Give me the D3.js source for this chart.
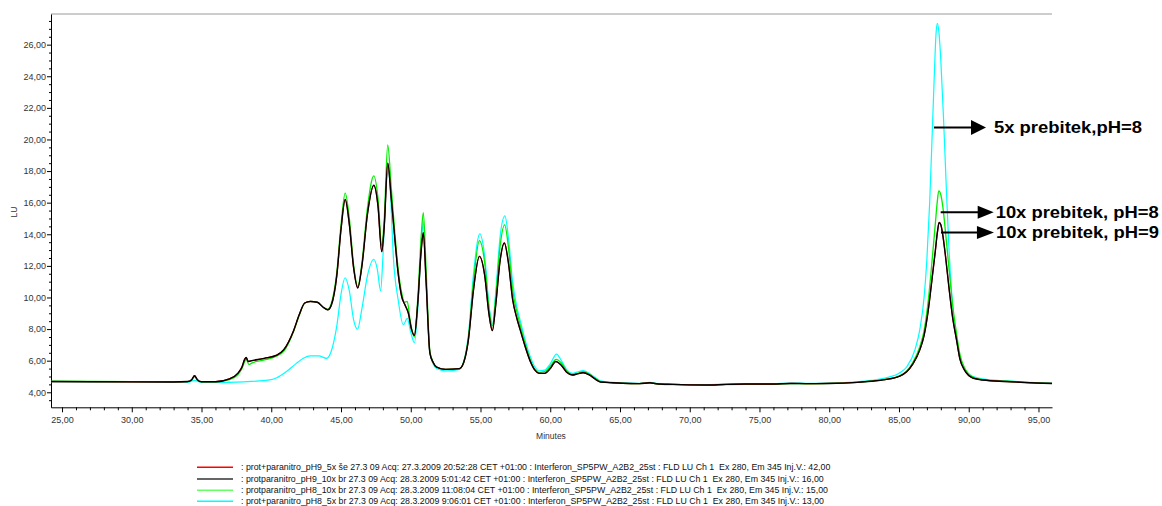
<!DOCTYPE html>
<html><head><meta charset="utf-8">
<script src="https://cdn.jsdelivr.net/npm/d3@7"></script>
<style>
html,body{margin:0;padding:0;background:#fff;}
svg{display:block;font-family:"Liberation Sans",Arial,sans-serif;}
</style></head>
<body><svg id="c" width="1162" height="506"></svg>
<script>
// ---------- DATA ----------
const xTicks = [25,30,35,40,45,50,55,60,65,70,75,80,85,90,95];
const yTicks = [4,6,8,10,12,14,16,18,20,22,24,26];
const xLabel = "Minutes";
const yLabel = "LU";

// pH9_10x (black)
const seriesPH9_10x = [[24.21,4.68],[27,4.67],[30,4.66],[33,4.65],[34.0,4.68],[34.3,4.8],[34.5,5.05],[34.7,4.8],[35.0,4.67],[36.0,4.67],[37.0,4.85],[37.6,5.2],[37.9,5.6],[38.1,6.1],[38.2,6.2],[38.35,5.95],[38.6,6.0],[39.5,6.15],[40.4,6.35],[40.9,6.7],[41.6,7.9],[42.0,8.9],[42.4,9.65],[42.8,9.75],[43.3,9.7],[43.7,9.4],[44.05,9.22],[44.3,9.5],[44.7,11.4],[45.0,14.3],[45.3,16.2],[45.6,14.6],[45.9,11.9],[46.2,10.6],[46.5,12.0],[46.9,15.3],[47.35,17.1],[47.65,15.8],[47.92,12.9],[48.1,14.5],[48.35,18.5],[48.6,16.3],[48.87,13.6],[49.1,11.5],[49.35,10.05],[49.6,9.5],[49.83,9.0],[50.05,8.0],[50.26,7.6],[50.5,9.6],[50.75,13.0],[50.9,14.1],[51.1,11.0],[51.37,6.5],[51.6,5.9],[51.85,5.6],[52.5,5.45],[53.5,5.5],[53.9,6.2],[54.13,7.3],[54.5,10.5],[54.92,12.6],[55.3,11.4],[55.6,9.0],[55.85,7.9],[56.1,9.6],[56.4,12.3],[56.71,13.45],[57.0,12.2],[57.3,9.9],[57.6,8.7],[57.83,8.0],[58.2,6.9],[58.55,6.0],[58.9,5.4],[59.2,5.2],[59.6,5.2],[60.0,5.5],[60.4,5.95],[60.8,5.7],[61.2,5.25],[61.6,5.09],[62.0,5.18],[62.35,5.24],[62.8,5.1],[63.2,4.85],[63.6,4.65],[64.5,4.6],[65.2,4.57],[66.4,4.55],[67.15,4.6],[67.6,4.54],[68.8,4.5],[70.0,4.47],[71.2,4.46],[72.6,4.5],[74.0,4.52],[76.0,4.52],[77.2,4.56],[78.5,4.55],[80.0,4.56],[82.0,4.63],[83.0,4.7],[84.0,4.8],[85.0,5.0],[85.55,5.3],[86.0,5.8],[86.5,6.7],[86.8,7.6],[87.1,9.2],[87.4,11.4],[87.6,12.9],[87.75,14.1],[87.88,14.75],[88.0,14.6],[88.15,13.9],[88.35,12.5],[88.6,10.5],[88.85,8.7],[89.13,7.3],[89.37,6.1],[89.7,5.4],[90.33,4.89],[91.0,4.78],[92.7,4.68],[94.0,4.62],[95.97,4.56]];

// pH9_5x (red) — hidden beneath the black trace in the reference
const seriesPH9_5x = seriesPH9_10x;

// pH8_10x (green)
const seriesPH8_10x = [[24.21,4.7],[30,4.68],[34.0,4.67],[34.3,4.78],[34.5,5.0],[34.7,4.78],[35.0,4.66],[36.0,4.66],[37.0,4.8],[37.6,5.1],[37.9,5.5],[38.1,5.95],[38.2,6.1],[38.4,5.75],[38.6,5.85],[39.5,6.05],[40.4,6.3],[40.9,6.6],[41.6,7.85],[42.0,8.85],[42.4,9.65],[42.8,9.75],[43.3,9.7],[43.7,9.4],[44.05,9.25],[44.3,9.6],[44.7,11.6],[45.0,14.6],[45.3,16.6],[45.6,15.0],[45.9,12.1],[46.2,10.7],[46.5,12.2],[46.9,15.7],[47.35,17.7],[47.65,16.3],[47.92,13.3],[48.1,15.0],[48.35,19.65],[48.6,17.0],[48.87,14.0],[49.1,11.8],[49.35,10.3],[49.55,9.7],[49.75,9.75],[49.95,8.6],[50.26,7.5],[50.5,9.9],[50.75,13.9],[50.9,15.37],[51.1,11.8],[51.37,6.6],[51.6,5.9],[51.85,5.6],[52.5,5.45],[53.5,5.5],[53.9,6.25],[54.13,7.45],[54.5,11.0],[54.92,13.6],[55.3,12.2],[55.6,9.4],[55.85,8.2],[56.1,10.1],[56.4,13.2],[56.73,14.59],[57.0,13.2],[57.3,10.5],[57.6,9.1],[57.83,8.3],[58.2,7.1],[58.55,6.1],[58.9,5.45],[59.2,5.25],[59.6,5.3],[60.0,5.65],[60.42,6.08],[60.8,5.85],[61.2,5.32],[61.6,5.13],[62.0,5.22],[62.35,5.3],[62.8,5.15],[63.2,4.9],[63.6,4.68],[64.5,4.6],[65.2,4.57],[66.4,4.55],[67.15,4.6],[67.6,4.54],[68.8,4.48],[70.0,4.45],[71.2,4.44],[72.6,4.49],[74.0,4.51],[76.0,4.51],[77.2,4.55],[78.5,4.54],[80.0,4.56],[82.0,4.63],[83.0,4.7],[84.0,4.82],[85.0,5.02],[85.55,5.35],[86.0,5.9],[86.5,6.9],[86.8,7.9],[87.1,9.8],[87.4,12.6],[87.6,14.6],[87.75,16.1],[87.85,16.75],[88.0,16.5],[88.15,15.7],[88.35,14.0],[88.6,11.7],[88.85,9.5],[89.13,7.7],[89.37,6.4],[89.7,5.55],[90.33,4.95],[91.0,4.8],[92.7,4.7],[94.0,4.63],[95.97,4.57]];

// pH8_5x (cyan)
const seriesPH8_5x = [[24.21,4.68],[30,4.65],[34.0,4.63],[34.5,4.75],[35.0,4.62],[37.0,4.63],[38.0,4.66],[40.0,4.8],[40.4,4.92],[41.0,5.25],[41.8,5.83],[42.3,6.15],[42.8,6.3],[43.4,6.3],[43.97,6.15],[44.3,6.6],[44.69,8.15],[45.0,10.2],[45.29,11.25],[45.6,10.4],[45.9,8.6],[46.18,7.99],[46.5,9.3],[46.9,11.4],[47.35,12.42],[47.6,11.8],[47.84,10.43],[48.0,12.5],[48.2,16.5],[48.4,18.0],[48.55,16.5],[48.75,12.6],[49.1,9.84],[49.47,8.26],[49.75,8.68],[50.0,7.8],[50.26,7.14],[50.5,9.2],[50.75,13.2],[50.9,14.8],[51.1,11.2],[51.37,6.5],[51.6,5.8],[51.85,5.5],[52.5,5.35],[53.5,5.45],[53.9,6.3],[54.13,7.6],[54.5,11.5],[54.95,14.02],[55.3,12.6],[55.6,9.6],[55.85,8.3],[56.1,10.4],[56.4,13.8],[56.75,15.16],[57.0,13.8],[57.3,11.0],[57.6,9.4],[57.83,8.6],[58.2,7.3],[58.55,6.3],[58.9,5.6],[59.2,5.35],[59.6,5.4],[60.0,5.8],[60.45,6.42],[60.8,6.0],[61.2,5.4],[61.6,5.2],[62.0,5.3],[62.35,5.37],[62.8,5.2],[63.2,4.95],[63.6,4.72],[64.5,4.63],[65.2,4.6],[66.4,4.57],[67.15,4.63],[67.6,4.56],[68.8,4.52],[70.0,4.48],[71.2,4.47],[72.6,4.52],[74.0,4.53],[76.0,4.54],[77.2,4.58],[78.5,4.57],[80.0,4.58],[82.0,4.66],[83.0,4.75],[84.0,4.9],[85.0,5.2],[85.55,5.6],[86.15,6.7],[86.5,8.0],[86.8,10.0],[87.0,12.4],[87.2,16.0],[87.4,20.8],[87.55,24.5],[87.65,26.6],[87.75,27.35],[87.85,26.9],[88.0,25.0],[88.2,21.2],[88.4,16.8],[88.6,12.8],[88.8,10.0],[89.0,8.1],[89.3,6.5],[89.6,5.6],[90.0,5.15],[90.5,4.95],[91.0,4.85],[92.7,4.72],[94.0,4.65],[95.97,4.58]];

const legendNames = [
  ": prot+paranitro_pH9_5x \u0161e 27.3 09 Acq: 27.3.2009 20:52:28 CET +01:00 : Interferon_SP5PW_A2B2_25st : FLD LU Ch 1  Ex 280, Em 345 Inj.V.: 42,00",
  ": protparanitro_pH9_10x br 27.3 09 Acq: 28.3.2009 5:01:42 CET +01:00 : Interferon_SP5PW_A2B2_25st : FLD LU Ch 1  Ex 280, Em 345 Inj.V.: 16,00",
  ": protparanitro_pH8_10x br 27.3 09 Acq: 28.3.2009 11:08:04 CET +01:00 : Interferon_SP5PW_A2B2_25st : FLD LU Ch 1  Ex 280, Em 345 Inj.V.: 15,00",
  ": prot+paranitro_pH8_5x br 27.3 09 Acq: 28.3.2009 9:06:01 CET +01:00 : Interferon_SP5PW_A2B2_25st : FLD LU Ch 1  Ex 280, Em 345 Inj.V.: 13,00"
];
const annotationLabels = ["5x prebitek,pH=8", "10x prebitek, pH=8", "10x prebitek, pH=9"];
const annotationTimes = [87.51, 87.99, 88.01];
const annotationValues = [20.75, 15.39, 14.12];

// ---------- CHART ----------
const svg = d3.select("#c");
const x = d3.scaleLinear().domain([24.21, 95.97]).range([51, 1052]);
const y = d3.scaleLinear().domain([3.05, 27.94]).range([407.3, 14]);
const fmt = v => d3.format(".2f")(v).replace(".", ",");

// top frame line
svg.append("line").attr("x1", 51).attr("x2", 1052).attr("y1", 14).attr("y2", 14)
  .attr("stroke", "#9a9a9a").attr("stroke-width", 1);

// minor ticks
const minorX = d3.range(25, 96, 1).filter(v => v % 5 !== 0);
const minorY = d3.range(3.5, 28, 0.5).filter(v => v % 2 !== 0);
svg.append("g").attr("transform", "translate(0,407.3)")
  .call(d3.axisBottom(x).tickValues(minorX).tickSize(3).tickFormat(""))
  .call(g => g.select(".domain").remove());
svg.append("g").attr("transform", "translate(51,0)")
  .call(d3.axisLeft(y).tickValues(minorY).tickSize(2).tickFormat(""))
  .call(g => g.select(".domain").remove());

const gx = svg.append("g").attr("transform", "translate(0,407.3)")
  .call(d3.axisBottom(x).tickValues(xTicks).tickSize(5).tickPadding(4).tickFormat(fmt).tickSizeOuter(0));
const gy = svg.append("g").attr("transform", "translate(51,0)")
  .call(d3.axisLeft(y).tickValues(yTicks).tickSize(4).tickPadding(1).tickFormat(fmt).tickSizeOuter(0));
[gx, gy].forEach(g => {
  g.selectAll("text").attr("font-size", 9).attr("fill", "#333").attr("font-family", "Liberation Sans, Arial, sans-serif");
  g.select(".domain").attr("stroke", "#000");
});
svg.selectAll(".tick line").attr("stroke", "#000");

svg.append("text").attr("x", 551).attr("y", 439).attr("text-anchor", "middle")
  .attr("font-size", 8.5).attr("fill", "#333").text(xLabel);
svg.append("text").attr("transform", "translate(17,212) rotate(-90)").attr("text-anchor", "middle")
  .attr("font-size", 8.5).attr("fill", "#333").text(yLabel);

// traces
const line = d3.line().x(d => x(d[0])).y(d => y(d[1])).curve(d3.curveMonotoneX);
const plot = svg.append("g");
const traces = [
  {data: seriesPH8_5x, color: "#00ffff", w: 1.2},
  {data: seriesPH8_10x, color: "#00ee00", w: 1.3},
  {data: seriesPH9_5x, color: "#ff0000", w: 1.2},
  {data: seriesPH9_10x, color: "#000000", w: 1.4}
];
traces.forEach(t => plot.append("path").attr("d", line(t.data))
  .attr("fill", "none").attr("stroke", t.color).attr("stroke-width", t.w).attr("stroke-linejoin", "round"));

// annotations
const arrowLen = [37, 37, 36];
const headLen = [15, 16, 17];
const labelWidth = [148, 163, 163];
annotationLabels.forEach((lab, i) => {
  const x0 = x(annotationTimes[i]), y0 = y(annotationValues[i]);
  const x1 = x0 + arrowLen[i], x2 = x1 + headLen[i];
  const hh = i === 0 ? 7.5 : 6.5;
  svg.append("line").attr("x1", x0).attr("x2", x1 + 1).attr("y1", y0).attr("y2", y0)
    .attr("stroke", "#000").attr("stroke-width", 2);
  svg.append("path").attr("d", `M${x1},${y0 - hh}L${x2},${y0}L${x1},${y0 + hh}Z`).attr("fill", "#000");
  svg.append("text").attr("x", x2 + (i === 0 ? 8 : 2)).attr("y", y0 + 5.8)
    .attr("font-size", 17).attr("font-weight", "bold").attr("fill", "#000")
    .attr("textLength", labelWidth[i]).attr("lengthAdjust", "spacingAndGlyphs")
    .attr("font-family", "Liberation Sans, Arial, sans-serif").text(lab);
});

// legend
const legendColors = ["#ff0000", "#333333", "#66ff66", "#00ffff"];
const legendY = [467.3, 479, 490.3, 501.3];
legendNames.forEach((n, i) => {
  svg.append("line").attr("x1", 197).attr("x2", 233).attr("y1", legendY[i]).attr("y2", legendY[i])
    .attr("stroke", legendColors[i]).attr("stroke-width", 1.6);
  svg.append("text").attr("x", 241).attr("y", legendY[i] + 2.8).attr("font-size", 8.8)
    .attr("fill", "#111").style("white-space", "pre").text(n);
});
</script></body></html>
